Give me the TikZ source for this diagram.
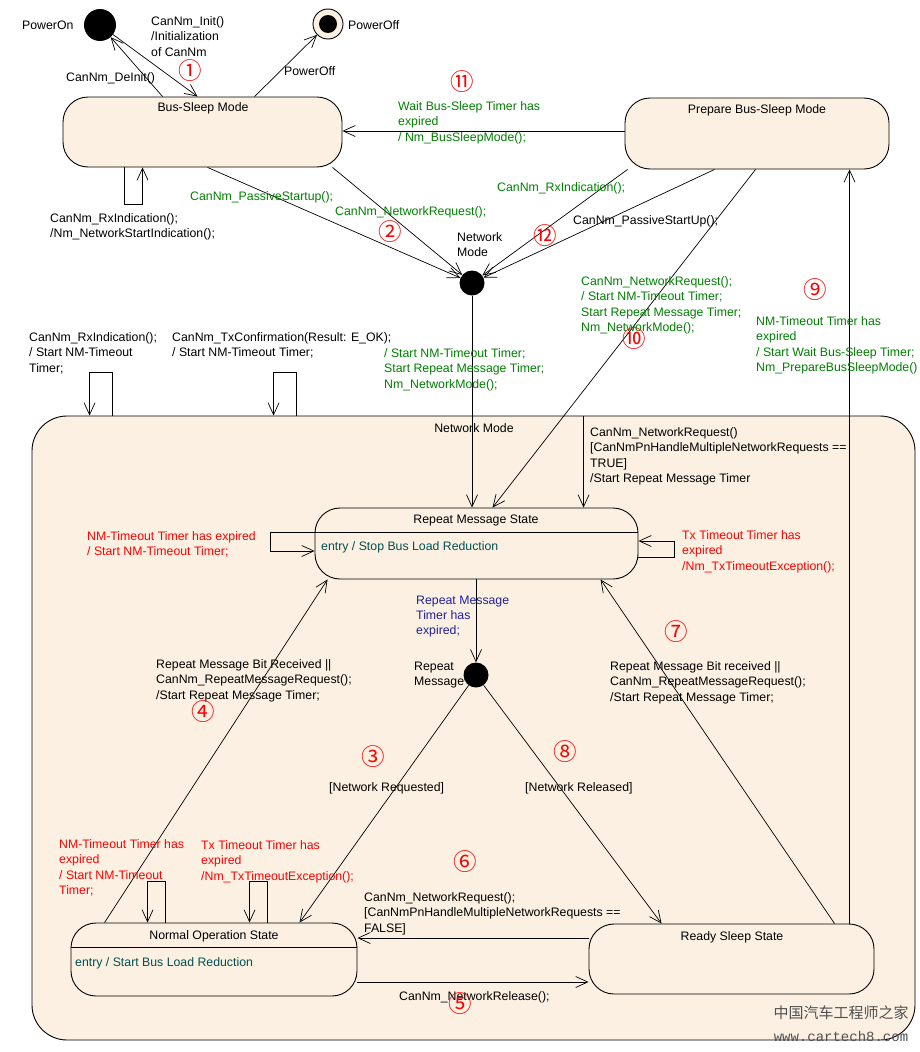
\documentclass[tikz,border=0pt]{standalone}
\usepackage{fontspec}
\setmainfont{Liberation Sans}
\setmonofont{Liberation Mono}
\newfontfamily\cjk{Noto Sans CJK SC}
\usetikzlibrary{arrows.meta,calc}
\definecolor{bg}{RGB}{251,240,226}
\definecolor{tgreen}{RGB}{0,128,0}
\definecolor{tred}{RGB}{255,0,0}
\definecolor{tnavy}{RGB}{32,32,160}
\definecolor{tteal}{RGB}{0,80,80}
\definecolor{wm}{RGB}{80,80,80}
\begin{document}
\begin{tikzpicture}[x=1pt,y=-1pt,
  >={Straight Barb[length=12pt,width=11pt]},
  state/.style={draw, fill=bg, rounded corners=25pt, inner sep=0, line width=0.9pt},
  junc/.style={circle, fill=black, inner sep=0},
  lbl/.style={inner sep=0, anchor=north west, align=left, yshift=-1.5pt, font=\fontsize{12.3}{15.3}\selectfont},
  slbl/.style={inner sep=0, anchor=west, yshift=-1.5pt, font=\fontsize{12.3}{15.3}\selectfont},
  ttl/.style={inner sep=0, font=\fontsize{12.3}{15.3}\selectfont},
  num/.style={inner sep=0, text=tred, font=\cjk\fontsize{23.5}{23.5}\selectfont},
  arr/.style={->, line width=0.7pt},
  ln/.style={line width=0.7pt}]
\useasboundingbox (0,0) rectangle (919,1052);
\fill[white] (0,0) rectangle (919,1052);

% composite state
\node[state, rounded corners=35pt, minimum width=883, minimum height=624] (nm) at (473.5,728) {};
\node[ttl] (nmt) at (474,428) {Network Mode};

% top states
\node[junc, minimum size=32] (pon) at (100,25) {};
\node[circle, draw, fill=bg, line width=0.9pt, minimum size=30, inner sep=0] (poff) at (328,24) {};
\node[junc, minimum size=18] (poffc) at (328,24) {};
\node[state, minimum width=279, minimum height=70] (bsm) at (202.5,132) {};
\node[ttl] (bsmt) at (203,108) {Bus-Sleep Mode};
\node[state, minimum width=264, minimum height=71] (pbsm) at (757,133.5) {};
\node[ttl] (pbsmt) at (757,110) {Prepare Bus-Sleep Mode};
\node[junc, minimum size=25] (nmj) at (472,283) {};

% inner states
\node[state, minimum width=323, minimum height=71] (rms) at (476.5,543.5) {};
\draw[line width=0.9pt] ([yshift=-25]rms.north west) -- ([yshift=-25]rms.north east);
\node[ttl] (rmst) at (476,520) {Repeat Message State};
\node[slbl, text=tteal] (rmse) at (321,546) {entry / Stop Bus Load Reduction};
\node[junc, minimum size=25] (rmj) at (476,675) {};
\node[state, minimum width=286, minimum height=73] (nos) at (214,959.5) {};
\draw[line width=0.9pt] ([yshift=-25]nos.north west) -- ([yshift=-25]nos.north east);
\node[ttl] (nost) at (214,936) {Normal Operation State};
\node[slbl, text=tteal] (nose) at (75,962) {entry / Start Bus Load Reduction};
\node[state, minimum width=285, minimum height=70] (rss) at (731.5,959) {};
\node[ttl] (rsst) at (732,937) {Ready Sleep State};

% connectors
\draw[arr] (pon) -- ([xshift=135]bsm.north west);
\draw[arr] ([xshift=100]bsm.north west) -- (pon);
\draw[arr] ([xshift=192]bsm.north west) -- (poff);
\draw[arr] ([xshift=62]bsm.south west) -- ++(0,37) -| ([xshift=80]bsm.south west);
\draw[arr] ([xshift=145]bsm.south west) -- (nmj);
\draw[arr] ([xshift=270]bsm.south west) -- (nmj);
\draw[arr] ([yshift=2.5]pbsm.west) -- ([yshift=2.5]pbsm.west -| bsm.east);
\draw[arr] ([xshift=3]pbsm.south west) -- (nmj);
\draw[arr] ([xshift=90]pbsm.south west) -- (nmj);
\draw[arr] ([xshift=131]pbsm.south west) -- ([xshift=178]rms.north west);
\draw[arr] (nmj) -- (nmj |- rms.north);
\draw[arr] ([xshift=261]rss.north west) -- ([xshift=261]rss.north west |- pbsm.south);
\draw[arr] ([xshift=81]nm.north west) -- ++(0,-43) -| ([xshift=58]nm.north west);
\draw[arr] ([xshift=265]nm.north west) -- ++(0,-43) -| ([xshift=242]nm.north west);
\draw[arr] ([xshift=269]rms.north west |- nm.north) -- ([xshift=269]rms.north west);
\draw[arr] ([yshift=11.5]rms.west) -- ++(-44,0) |- ([yshift=-7.5]rms.west);
\draw[arr] ([yshift=-13.5]rms.east) -- ++(36,0) |- ([yshift=2.5]rms.east);
\draw[arr] (rmj |- rms.south) -- (rmj);
\draw[arr] ([xshift=34]nos.north west) -- ([xshift=13]rms.south west);
\draw[arr] ([xshift=246]rss.north west) -- ([xshift=286]rms.south west);
\draw[arr] (rmj) -- ([xshift=229]nos.north west);
\draw[arr] (rmj) -- ([xshift=73]rss.north west);
\draw[arr] ([xshift=95]nos.north west) -- ++(0,-41) -| ([xshift=77]nos.north west);
\draw[arr] ([xshift=197]nos.north west) -- ++(0,-41) -| ([xshift=179]nos.north west);
\draw[arr] ([yshift=21]rss.west) -- ([yshift=21]rss.west -| nos.east);
\draw[arr] ([yshift=-22.5]nos.east) -- ([yshift=-22.5]nos.east -| rss.west);

% labels
\node[slbl] (l1) at (22,24) {PowerOn};
\node[slbl] (l2) at (348,24) {PowerOff};
\node[lbl] (l3) at (151,15) {CanNm\_Init()\\/Initialization\\of CanNm};
\node[slbl] (l4) at (66,77) {CanNm\_DeInit()};
\node[slbl] (l5) at (284,70) {PowerOff};
\node[lbl] (l6) at (50,212) {CanNm\_RxIndication();\\/Nm\_NetworkStartIndication();};
\node[slbl, text=tgreen] (l7) at (190,196) {CanNm\_PassiveStartup();};
\node[slbl, text=tgreen] (l8) at (335,211) {CanNm\_NetworkRequest();};
\node[lbl, text=tgreen] (l9) at (398,100) {Wait Bus-Sleep Timer has\\expired\\/ Nm\_BusSleepMode();};
\node[slbl, text=tgreen] (l10) at (497,187) {CanNm\_RxIndication();};
\node[slbl] (l11) at (573,220) {CanNm\_PassiveStartUp();};
\node[lbl] (l12) at (457,231) {Network\\Mode};
\node[lbl, text=tgreen] (l13) at (581,275) {CanNm\_NetworkRequest();\\/ Start NM-Timeout Timer;\\Start Repeat Message Timer;\\Nm\_NetworkMode();};
\node[lbl, text=tgreen] (l14) at (756,315) {NM-Timeout Timer has\\expired\\/ Start Wait Bus-Sleep Timer;\\Nm\_PrepareBusSleepMode()};
\node[lbl] (l15) at (29,331) {CanNm\_RxIndication();\\/ Start NM-Timeout\\Timer;};
\node[lbl] (l16) at (172,331) {CanNm\_TxConfirmation(Result: E\_OK);\\/ Start NM-Timeout Timer;};
\node[lbl, text=tgreen] (l17) at (384,347) {/ Start NM-Timeout Timer;\\Start Repeat Message Timer;\\Nm\_NetworkMode();};
\node[lbl] (l18) at (590,426) {CanNm\_NetworkRequest()\\{}[CanNmPnHandleMultipleNetworkRequests ==\\TRUE]\\/Start Repeat Message Timer};
\node[lbl, text=tred] (l19) at (87,530) {NM-Timeout Timer has expired\\/ Start NM-Timeout Timer;};
\node[lbl, text=tred] (l20) at (682,529) {Tx Timeout Timer has\\expired\\/Nm\_TxTimeoutException();};
\node[lbl, text=tnavy] (l21) at (416,594) {Repeat Message\\Timer has\\expired;};
\node[lbl] (l22) at (414,660) {Repeat\\Message};
\node[lbl] (l23) at (156,658) {Repeat Message Bit Received ||\\CanNm\_RepeatMessageRequest();\\/Start Repeat Message Timer;};
\node[lbl] (l24) at (610,660) {Repeat Message Bit received ||\\CanNm\_RepeatMessageRequest();\\/Start Repeat Message Timer;};
\node[slbl] (l25) at (329,787) {[Network Requested]};
\node[slbl] (l26) at (525,787) {[Network Released]};
\node[lbl, text=tred] (l27) at (59,838) {NM-Timeout Timer has\\expired\\/ Start NM-Timeout\\Timer;};
\node[lbl, text=tred] (l28) at (201,839) {Tx Timeout Timer has\\expired\\/Nm\_TxTimeoutException();};
\node[lbl] (l29) at (364,891) {CanNm\_NetworkRequest();\\{}[CanNmPnHandleMultipleNetworkRequests ==\\FALSE]};
\node[slbl] (l30) at (399,996) {CanNm\_NetworkRelease();};

% circled numbers
\node[num] (n1) at (190,71) {①};
\node[num] (n2) at (390,232) {②};
\node[num] (n3) at (373,757) {③};
\node[num] (n4) at (203,712) {④};
\node[num] (n5) at (460,1004) {⑤};
\node[num] (n6) at (465,862) {⑥};
\node[num] (n7) at (676,632) {⑦};
\node[num] (n8) at (565,752) {⑧};
\node[num] (n9) at (815,290) {⑨};
\node[num] (n10) at (634,339) {⑩};
\node[num] (n11) at (462,82) {⑪};
\node[num] (n12) at (545,236) {⑫};

% watermark
\node[inner sep=0, text=wm, font=\cjk\fontsize{15}{15}\selectfont] (wm1) at (841,1013) {中国汽车工程师之家};
\node[inner sep=0, text=wm, font=\ttfamily\fontsize{14}{14}\selectfont] (wm2) at (841,1036) {www.cartech8.com};
\end{tikzpicture}
\end{document}
